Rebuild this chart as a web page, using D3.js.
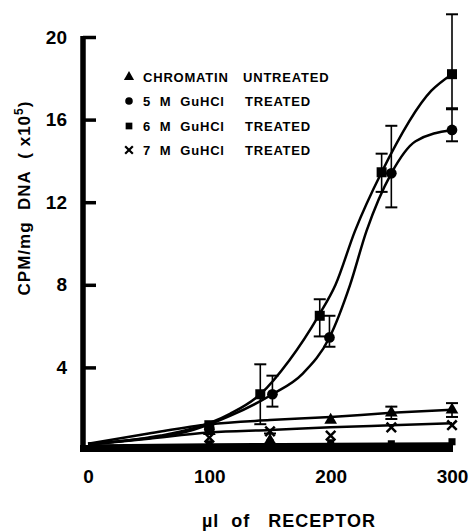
<!DOCTYPE html>
<html>
<head>
<meta charset="utf-8">
<script src="https://cdn.jsdelivr.net/npm/d3@7"></script>
<style>
  body { margin: 0; background: #fff; }
  text { font-family: "Liberation Sans", "DejaVu Sans", sans-serif; font-weight: bold; fill: #000; }
</style>
</head>
<body>
<div id="chart"></div>
<script>
// ticks
var xTicks = [0, 100, 200, 300],
    yTicks = [4, 8, 12, 16, 20];

// measured points (x = ul of receptor, y = CPM/mg DNA x10^5)
var sqX  = [100, 142, 191, 242, 300],
    sqY  = [1.2, 2.7, 6.5, 13.45, 18.2],
    sqLo = [null, 1.25, 5.5, 12.5, 16.55],
    sqHi = [null, 4.15, 7.3, 14.35, 21.1];

var ciX  = [100, 152, 199, 250, 300],
    ciY  = [1.0, 2.7, 5.45, 13.4, 15.5],
    ciLo = [null, 2.1, 5.0, 11.75, 14.95],
    ciHi = [null, 3.6, 6.5, 15.7, 16.5];

var trX  = [100, 150, 200, 250, 300],
    trY  = [0.9, 0.45, 1.45, 1.8, 1.95],
    trLo = [null, 0.3, null, 1.5, 1.6],
    trHi = [null, 0.8, null, 2.1, 2.27];

var xxX  = [100, 150, 200, 250, 300],
    xxY  = [0.6, 0.9, 0.7, 1.1, 1.2];

var baseX = [100, 150, 200, 250, 300],
    baseY = [0.3, 0.35, 0.35, 0.3, 0.4];

// hand-drawn fitted curves
var sqCurveX = [0, 30, 60, 87, 117, 142, 166, 190, 204, 220, 242, 283, 300],
    sqCurveY = [0.3, 0.45, 0.7, 1.05, 1.75, 2.7, 4.35, 6.5, 8.0, 10.6, 13.45, 17.4, 18.2];
var ciCurveX = [0, 30, 60, 87, 117, 152, 177, 199, 216, 229.5, 250, 270, 300],
    ciCurveY = [0.3, 0.45, 0.65, 0.98, 1.65, 2.7, 3.7, 5.45, 8.0, 10.6, 13.4, 14.95, 15.5];
var trCurveX = [0, 50, 100, 150, 200, 250, 300],
    trCurveY = [0.3, 0.8, 1.25, 1.45, 1.6, 1.8, 1.95];
var xxCurveX = [0, 50, 100, 150, 200, 250, 300],
    xxCurveY = [0.25, 0.55, 0.85, 0.97, 1.1, 1.2, 1.3];
var baseCurveX = [0, 100, 200, 300],
    baseCurveY = [0.2, 0.25, 0.28, 0.3];

var legendLabels = ["CHROMATIN", "5\u00a0\u00a0M\u00a0\u00a0GuHCl", "6\u00a0\u00a0M\u00a0\u00a0GuHCl", "7\u00a0\u00a0M\u00a0\u00a0GuHCl"],
    legendLabels2 = ["UNTREATED", "TREATED", "TREATED", "TREATED"];

var width = 473, height = 532;

var svg = d3.select("#chart")
  .append("svg")
  .attr("width", width)
  .attr("height", height);

var x = d3.scaleLinear().domain([0, 300]).range([88, 452]);
var y = d3.scaleLinear().domain([0, 20]).range([450, 37]);

// axes
var yAxis = svg.append("g")
  .attr("transform", "translate(83,0)")
  .call(d3.axisLeft(y).tickValues(yTicks).tickSize(-13).tickPadding(16).tickFormat(d3.format("d")));
yAxis.select(".domain").remove();
yAxis.selectAll(".tick line").attr("stroke", "#000").attr("stroke-width", 3.5);
yAxis.selectAll(".tick text").style("font-size", "19px");

var xAxis = svg.append("g")
  .attr("transform", "translate(0,450)")
  .call(d3.axisBottom(x).tickValues(xTicks).tickSize(0).tickPadding(20).tickFormat(d3.format("d")));
xAxis.select(".domain").remove();
xAxis.selectAll(".tick text").style("font-size", "19px");

svg.append("line")
  .attr("x1", 83).attr("x2", 83)
  .attr("y1", y(20) - 1).attr("y2", 452)
  .attr("stroke", "#000").attr("stroke-width", 5.5);
svg.append("line")
  .attr("x1", 80).attr("x2", 453)
  .attr("y1", 448.5).attr("y2", 448.5)
  .attr("stroke", "#000").attr("stroke-width", 7);

// axis titles
svg.append("text")
  .attr("text-anchor", "middle")
  .attr("transform", "translate(30,198)rotate(-90)")
  .style("font-size", "17px")
  .style("letter-spacing", "1px")
  .html('CPM/mg&#160;&#160;DNA&#160;&#160;( x10<tspan dy="-7" font-size="12px">5</tspan><tspan dy="7">)</tspan>');

svg.append("text")
  .attr("text-anchor", "middle")
  .attr("x", 289).attr("y", 527)
  .style("font-size", "18px")
  .style("letter-spacing", "1px")
  .text("\u00b5l\u00a0\u00a0of\u00a0\u00a0\u00a0RECEPTOR");

// curves
var line = d3.line()
  .x(function(d) { return x(d[0]); })
  .y(function(d) { return y(d[1]); })
  .curve(d3.curveMonotoneX);

function drawCurve(xs, ys, w) {
  svg.append("path")
    .datum(d3.zip(xs, ys))
    .attr("fill", "none")
    .attr("stroke", "#000")
    .attr("stroke-width", w)
    .attr("d", line);
}
drawCurve(baseCurveX, baseCurveY, 3);
drawCurve(xxCurveX, xxCurveY, 2.5);
drawCurve(trCurveX, trCurveY, 2.5);
drawCurve(ciCurveX, ciCurveY, 2.5);
drawCurve(sqCurveX, sqCurveY, 2.5);

// error bars
function drawErr(xs, ys, lo, hi) {
  var g = svg.append("g").attr("stroke", "#000").attr("stroke-width", 1.6);
  xs.forEach(function(d, i) {
    if (lo[i] == null) return;
    g.append("line").attr("x1", x(d)).attr("x2", x(d)).attr("y1", y(lo[i])).attr("y2", y(hi[i]));
    g.append("line").attr("x1", x(d) - 6).attr("x2", x(d) + 6).attr("y1", y(lo[i])).attr("y2", y(lo[i])).attr("stroke-width", 2);
    g.append("line").attr("x1", x(d) - 6).attr("x2", x(d) + 6).attr("y1", y(hi[i])).attr("y2", y(hi[i])).attr("stroke-width", 2);
  });
}
drawErr(sqX, sqY, sqLo, sqHi);
drawErr(ciX, ciY, ciLo, ciHi);
drawErr(trX, trY, trLo, trHi);

// markers
function drawPts(xs, ys, type, size, stroke) {
  svg.append("g")
    .selectAll("path")
    .data(d3.zip(xs, ys))
    .enter()
    .append("path")
    .attr("transform", function(d) { return "translate(" + x(d[0]) + "," + y(d[1]) + ")"; })
    .attr("d", d3.symbol().type(type).size(size))
    .attr("fill", stroke ? "none" : "#000")
    .attr("stroke", "#000")
    .attr("stroke-width", stroke ? 2.5 : 0);
}
drawPts(baseX, baseY, d3.symbolSquare, 50, false);
drawPts(xxX, xxY, d3.symbolTimes, 60, true);
drawPts(trX, trY, d3.symbolTriangle, 70, false);
drawPts(ciX, ciY, d3.symbolCircle, 90, false);
drawPts(sqX, sqY, d3.symbolSquare, 100, false);

// legend
var legTypes = [d3.symbolTriangle, d3.symbolCircle, d3.symbolSquare, d3.symbolTimes],
    legY = [77, 101, 126, 150];
var leg = svg.append("g");
legendLabels.forEach(function(lab, i) {
  var isX = legTypes[i] === d3.symbolTimes;
  leg.append("path")
    .attr("transform", "translate(129," + legY[i] + ")")
    .attr("d", d3.symbol().type(legTypes[i]).size(isX ? 40 : 45))
    .attr("fill", isX ? "none" : "#000")
    .attr("stroke", "#000")
    .attr("stroke-width", isX ? 2.2 : 0);
  leg.append("text")
    .attr("x", 143).attr("y", legY[i] + 5)
    .style("font-size", "13px")
    .style("letter-spacing", "0.8px")
    .text(lab);
  leg.append("text")
    .attr("x", i === 0 ? 243 : 245).attr("y", legY[i] + 5)
    .style("font-size", "13px")
    .style("letter-spacing", "0.8px")
    .text(legendLabels2[i]);
});
</script>
</body>
</html>
